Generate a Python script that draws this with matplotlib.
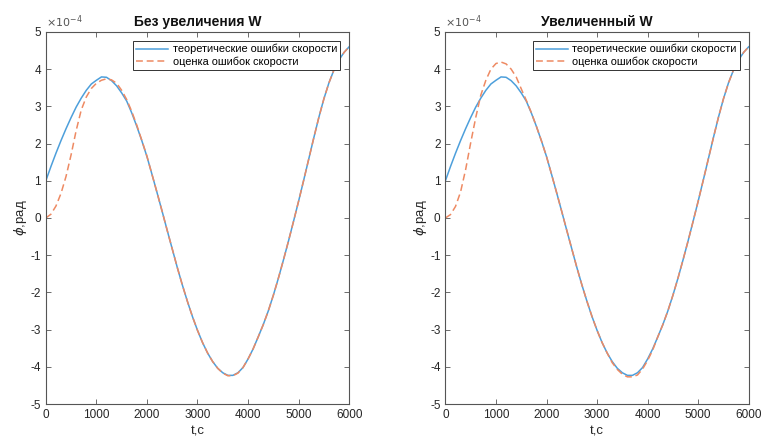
import numpy as np
import matplotlib
matplotlib.use("Agg")
import matplotlib.pyplot as plt
from matplotlib.ticker import FuncFormatter, MultipleLocator

plt.rcParams['font.family'] = ['Liberation Sans', 'DejaVu Sans']
plt.rcParams['mathtext.fontset'] = 'dejavusans'
plt.rcParams['axes.unicode_minus'] = False

# время, с (шаг 100 с)
t_sec = list(range(0, 6001, 100))

# ошибки скорости, x1e-4 рад
err_theory = [1.00, 1.38, 1.74, 2.08, 2.40, 2.70, 2.98, 3.22, 3.43, 3.60, 3.70,
              3.79, 3.78, 3.69, 3.55, 3.36, 3.14, 2.82, 2.46, 2.07, 1.65,
              1.17, 0.68, 0.18, -0.33, -0.83, -1.33, -1.80, -2.24, -2.65, -3.02,
              -3.35, -3.63, -3.86, -4.04, -4.16, -4.23, -4.23, -4.16, -4.02, -3.79,
              -3.52, -3.20, -2.87, -2.50, -2.08, -1.62, -1.13, -0.62, -0.09, 0.45,
              1.01, 1.58, 2.15, 2.70, 3.20, 3.63, 3.98, 4.25, 4.45, 4.60]

# оценка без увеличения W
err_est_base = [0.00, 0.10, 0.32, 0.66, 1.12, 1.70, 2.35, 2.90, 3.25, 3.48, 3.62,
                3.70, 3.74, 3.71, 3.62, 3.43, 3.18, 2.86, 2.49, 2.08, 1.66,
                1.17, 0.68, 0.18, -0.33, -0.83, -1.33, -1.80, -2.24, -2.65, -3.02,
                -3.35, -3.63, -3.86, -4.04, -4.17, -4.24, -4.24, -4.17, -4.02, -3.79,
                -3.52, -3.20, -2.87, -2.50, -2.08, -1.62, -1.13, -0.62, -0.09, 0.45,
                1.01, 1.58, 2.15, 2.70, 3.20, 3.63, 3.98, 4.25, 4.45, 4.60]

# оценка с увеличенным W
err_est_w = [0.00, 0.09, 0.31, 0.70, 1.30, 2.02, 2.70, 3.30, 3.70, 4.00, 4.15,
             4.19, 4.14, 4.00, 3.79, 3.47, 3.16, 2.83, 2.46, 2.07, 1.65,
             1.17, 0.68, 0.18, -0.33, -0.83, -1.33, -1.80, -2.24, -2.65, -3.02,
             -3.35, -3.63, -3.89, -4.07, -4.20, -4.27, -4.27, -4.22, -4.06, -3.83,
             -3.55, -3.20, -2.87, -2.50, -2.08, -1.62, -1.13, -0.62, -0.09, 0.45,
             1.01, 1.58, 2.15, 2.70, 3.20, 3.63, 3.98, 4.25, 4.45, 4.60]

titles = ['Без увеличения W', 'Увеличенный W']
labels = ['теоретические ошибки скорости', 'оценка ошибок скорости']
SCALE = 1e-4

BLUE = '#4d9fdb'
ORANGE = '#ee8a63'
AX_COLOR = '#555555'
TXT_COLOR = '#262626'


def draw_panel(ax, title, estimate):
    t = np.array(t_sec)
    ax.plot(t, np.array(err_theory) * SCALE, color=BLUE, lw=1.1, label=labels[0])
    ax.plot(t, np.array(estimate) * SCALE, color=ORANGE, lw=1.1,
            linestyle=(0, (4.5, 2.5)), label=labels[1])

    ax.set_xlim(0, 6000)
    ax.set_ylim(-5e-4, 5e-4)
    ax.xaxis.set_major_locator(MultipleLocator(1000))
    ax.yaxis.set_major_locator(MultipleLocator(1e-4))
    # подписи по оси Y в единицах 1e-4, множитель выводится отдельно
    ax.yaxis.set_major_formatter(FuncFormatter(lambda v, pos: '%g' % round(v / SCALE, 6)))
    ax.text(0.0, 1.004, r'$\times10^{-4}$', transform=ax.transAxes,
            ha='left', va='bottom', fontsize=8, color='#555555')

    ax.tick_params(direction='in', length=3.5, width=0.6, top=True, right=True,
                   labelsize=8.5, colors=AX_COLOR, labelcolor=TXT_COLOR)
    for sp in ax.spines.values():
        sp.set_color(AX_COLOR)
        sp.set_linewidth(0.8)

    ax.set_title(title, fontsize=10, fontweight='bold', color='#111111', pad=4)
    ax.set_xlabel('t,c', fontsize=9.5, color=TXT_COLOR, labelpad=3)
    ax.set_ylabel(r'$\phi$,рад', fontsize=9.5, color=TXT_COLOR, labelpad=1)

    leg = ax.legend(loc='upper right', fontsize=7.9, frameon=True, fancybox=False,
                    handlelength=2.9, handletextpad=0.4, borderpad=0.3,
                    labelspacing=0.15, borderaxespad=0.8)
    leg.get_frame().set_edgecolor('#333333')
    leg.get_frame().set_linewidth(0.7)
    leg.get_frame().set_alpha(1.0)


fig = plt.figure(figsize=(7.64, 4.43), dpi=100)
ax1 = fig.add_axes([0.060, 0.088, 0.397, 0.840])
ax2 = fig.add_axes([0.583, 0.088, 0.397, 0.840])

draw_panel(ax1, titles[0], err_est_base)
draw_panel(ax2, titles[1], err_est_w)

fig.savefig('out.png', dpi=100)
